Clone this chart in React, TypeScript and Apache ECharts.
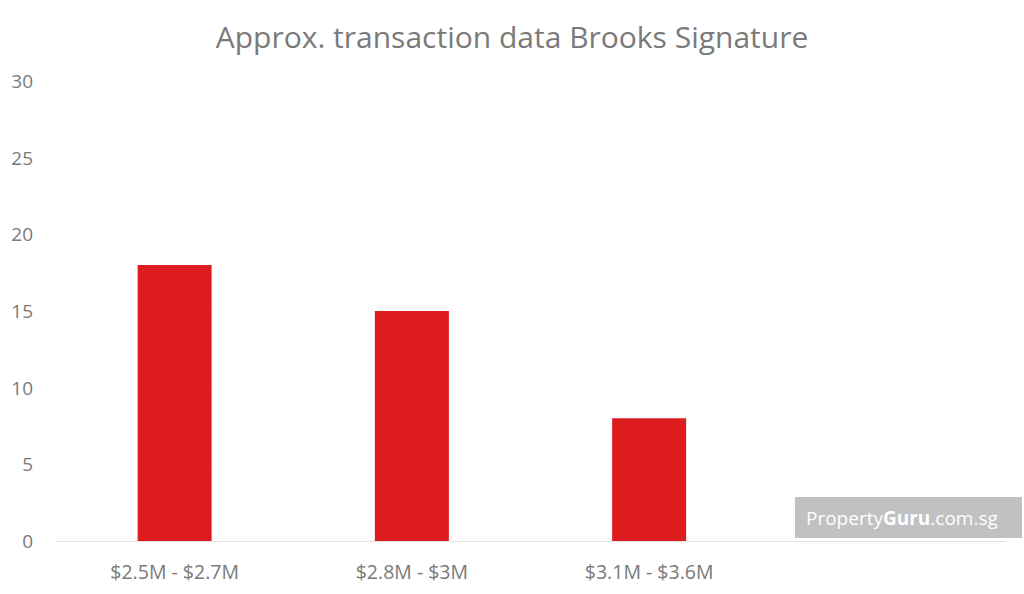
import React, { useEffect, useRef } from "react";
import * as echarts from "echarts";

const categories = ["$2.5M - $2.7M", "$2.8M - $3M", "$3.1M - $3.6M", ""];
const transactions = [18, 15, 8, null];
const yTicks = { min: 0, max: 30, interval: 5 };
const titleText = "Approx. transaction data Brooks Signature";

const FONT = "'Open Sans', 'Noto Sans', sans-serif";
const GRAY = "#7a7a7a";

export default function App() {
  const ref = useRef<HTMLDivElement>(null);
  useEffect(() => {
    if (!ref.current) return;
    const chart = echarts.init(ref.current, null, { renderer: "svg" });
    chart.setOption({
      animation: false,
      backgroundColor: "#ffffff",
      title: {
        text: titleText,
        left: "center",
        top: 16,
        textStyle: { color: GRAY, fontSize: 30, fontWeight: "normal", fontFamily: FONT },
      },
      grid: { left: 56, right: 19, top: 81, bottom: 53, containLabel: false },
      xAxis: {
        type: "category",
        data: categories,
        axisLine: { show: true, lineStyle: { color: "#e3e3e3", width: 1 } },
        axisTick: { show: false },
        axisLabel: { color: GRAY, fontSize: 19.5, fontFamily: FONT, margin: 20 },
      },
      yAxis: {
        type: "value",
        min: yTicks.min,
        max: yTicks.max,
        interval: yTicks.interval,
        axisLine: { show: false },
        axisTick: { show: false },
        splitLine: { show: true, lineStyle: { color: "#fafafa" } },
        axisLabel: { color: GRAY, fontSize: 19, fontFamily: FONT, margin: 23 },
      },
      series: [
        {
          type: "bar",
          data: transactions,
          barWidth: 74,
          itemStyle: { color: "#dc1c1f" },
        },
      ],
      graphic: [
        {
          type: "group",
          left: 795,
          top: 497,
          children: [
            {
              type: "rect",
              shape: { x: 0, y: 0, width: 227, height: 41 },
              style: { fill: "#c1c1c1" },
            },
            {
              type: "text",
              x: 11,
              y: 20.5,
              style: {
                text: "{a|Property}{b|Guru}{a|.com.sg}",
                verticalAlign: "middle",
                rich: {
                  a: { fill: "#ffffff", fontSize: 19, fontFamily: FONT },
                  b: { fill: "#ffffff", fontSize: 19, fontFamily: FONT, fontWeight: "bold" },
                },
              },
            },
          ],
        },
      ],
    });
    return () => chart.dispose();
  }, []);
  return (
    <div
      ref={ref}
      style={{ position: "absolute", left: 0, top: 0, width: 1024, height: 594 }}
    />
  );
}
